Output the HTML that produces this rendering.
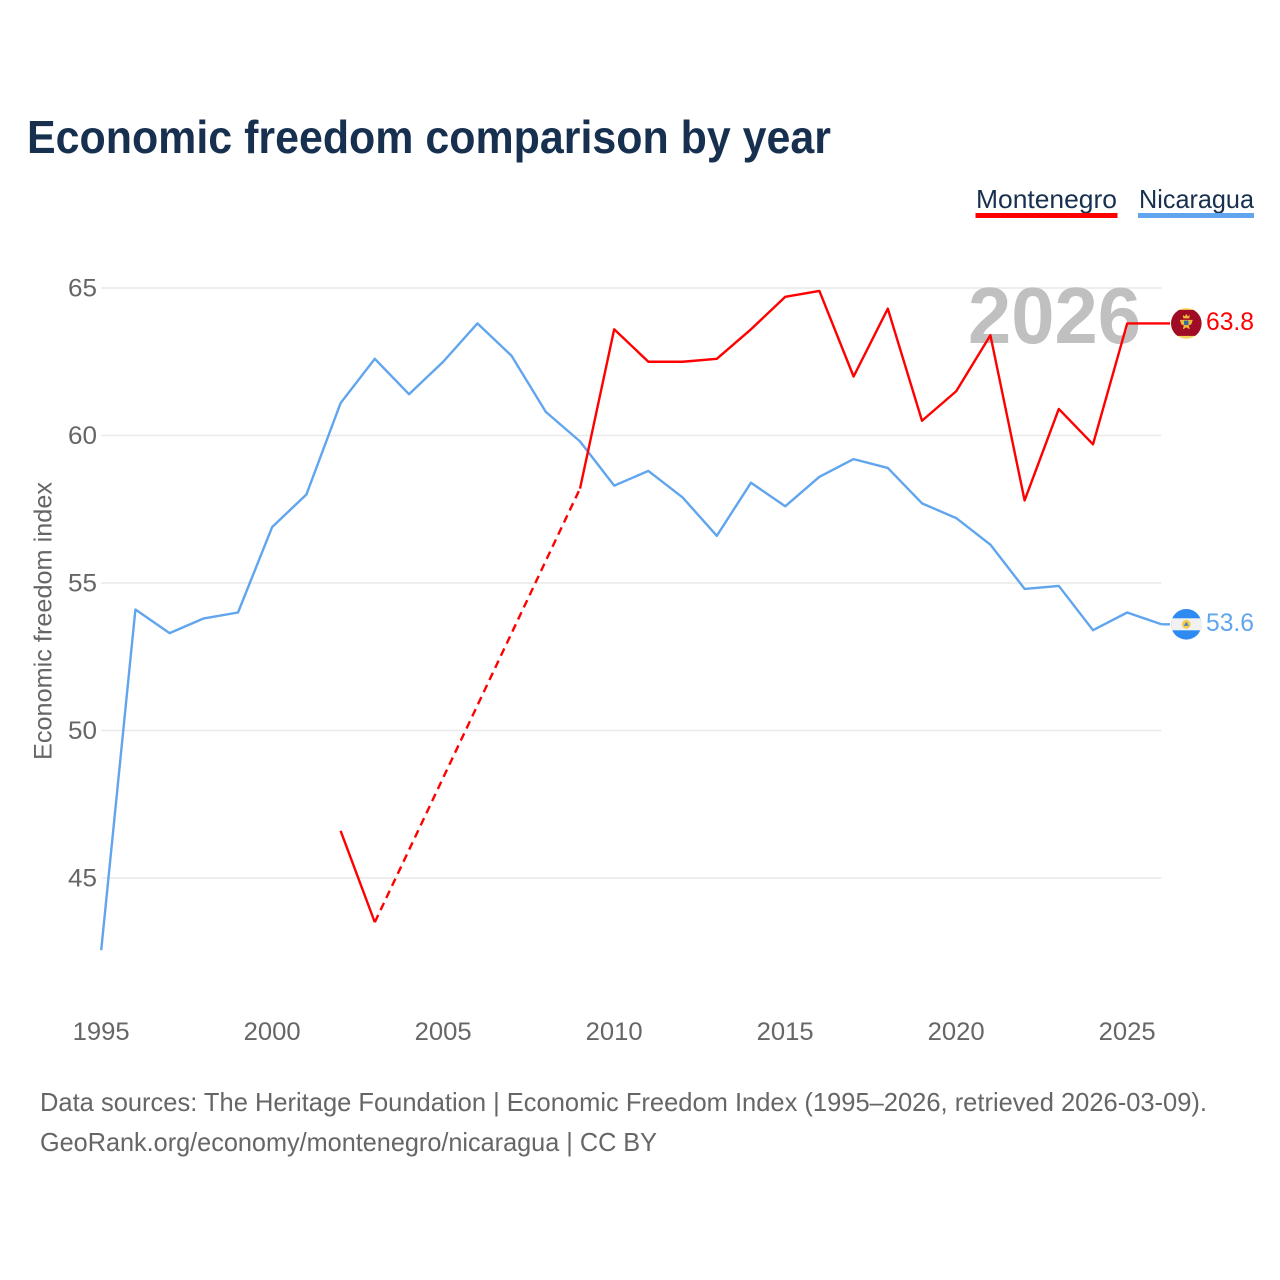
<!DOCTYPE html>
<html lang="en">
<head>
<meta charset="utf-8">
<title>Economic freedom comparison by year</title>
<style>
html,body{margin:0;padding:0;background:#fff;}
svg{display:block;font-family:"Liberation Sans",sans-serif;}
</style>
</head>
<body>
<svg id="chart" xmlns="http://www.w3.org/2000/svg" width="1280" height="1280" viewBox="0 0 1280 1280">
  <rect x="0" y="0" width="1280" height="1280" fill="#ffffff"/>
  <text x="27" y="153" font-size="46" font-weight="700" fill="#18304f" textLength="804" lengthAdjust="spacingAndGlyphs">Economic freedom comparison by year</text>

  <g>
    <text x="976" y="208" font-size="26" fill="#18304f" textLength="141" lengthAdjust="spacingAndGlyphs">Montenegro</text>
    <rect x="975.5" y="213" width="142" height="5" fill="#ff0000"/>
  </g>
  <g>
    <text x="1139" y="208" font-size="26" fill="#18304f" textLength="115" lengthAdjust="spacingAndGlyphs">Nicaragua</text>
    <rect x="1138" y="213" width="116" height="5" fill="#60a5ee"/>
  </g>

  <g id="grid"></g>
  <text x="1141" y="343" font-size="80" font-weight="700" fill="#c0c0c0" text-anchor="end" textLength="173" lengthAdjust="spacingAndGlyphs">2026</text>
  <g id="yticks"></g>
  <g id="xticks"></g>
  <text transform="translate(51.5,760) rotate(-90)" x="0" y="0" font-size="25" fill="#666666" textLength="278" lengthAdjust="spacingAndGlyphs">Economic freedom index</text>

  <g id="series"></g>

  <g id="flag-montenegro">
    <clipPath id="clip-me"><circle cx="0" cy="0" r="15.3"/></clipPath>
    <g clip-path="url(#clip-me)">
      <rect x="-16" y="-16" width="32" height="32" fill="#f6d25a"/>
      <rect x="-16" y="-13.5" width="32" height="26" fill="#a00b25"/>
      <path d="M-3.5 -8.5 L-3 -5 L3 -5 L3.5 -8.5 L1.5 -7 L0 -9.5 L-1.5 -7 Z" fill="#eeb93a"/>
      <path d="M-6.5 -3.5 L-2.5 -3.5 L2.5 -3.5 L6.5 -3.5 L5 1 L2.5 2 L3.5 6 L0 4 L-3.5 6 L-2.5 2 L-5 1 Z" fill="#eeb93a"/>
      <rect x="-2.2" y="-2.8" width="4.4" height="4.4" fill="#2f6e9e"/>
    </g>
  </g>
  <g id="flag-nicaragua">
    <clipPath id="clip-ni"><circle cx="0" cy="0" r="15.3"/></clipPath>
    <g clip-path="url(#clip-ni)">
      <rect x="-16" y="-16" width="32" height="32" fill="#2f8bf2"/>
      <rect x="-16" y="-6" width="32" height="12" fill="#f1f1f1"/>
      <circle cx="0" cy="0" r="4.4" fill="#f3cc4b"/>
      <path d="M-2.6 1.6 L0 -2.6 L2.6 1.6 Z" fill="#4f86c6"/>
    </g>
  </g>
  <text id="value-montenegro" x="1206" font-size="25" fill="#ff0000" textLength="48" lengthAdjust="spacingAndGlyphs"></text>
  <text id="value-nicaragua" x="1206" font-size="25" fill="#60a5ee" textLength="48" lengthAdjust="spacingAndGlyphs"></text>

  <text x="40" y="1111" font-size="26" fill="#666666" textLength="1167" lengthAdjust="spacingAndGlyphs">Data sources: The Heritage Foundation | Economic Freedom Index (1995–2026, retrieved 2026-03-09).</text>
  <text x="40" y="1151" font-size="26" fill="#666666" textLength="617" lengthAdjust="spacingAndGlyphs">GeoRank.org/economy/montenegro/nicaragua | CC BY</text>
</svg>

<script>
const years = [1995,1996,1997,1998,1999,2000,2001,2002,2003,2004,2005,2006,2007,2008,2009,2010,2011,2012,2013,2014,2015,2016,2017,2018,2019,2020,2021,2022,2023,2024,2025,2026];
const nicaraguaValues = [42.55,54.1,53.3,53.8,54.0,56.9,58.0,61.1,62.6,61.4,62.5,63.8,62.7,60.8,59.8,58.3,58.8,57.9,56.6,58.4,57.6,58.6,59.2,58.9,57.7,57.2,56.3,54.8,54.9,53.4,54.0,53.6];
const montenegroValues = [null,null,null,null,null,null,null,46.6,43.5,null,null,null,null,null,58.2,63.6,62.5,62.5,62.6,63.6,64.7,64.9,62.0,64.3,60.5,61.5,63.4,57.8,60.9,59.7,63.8,63.8];
const yTickValues = [45,50,55,60,65];
const xTickValues = [1995,2000,2005,2010,2015,2020,2025];

const SVG_NS = 'http://www.w3.org/2000/svg';
const xLeft = 101.2, xPerYear = 34.2;
const yAt65 = 288, yPerUnit = 29.5;
function xScale(year) { return xLeft + (year - 1995) * xPerYear; }
function yScale(value) { return yAt65 + (65 - value) * yPerUnit; }
function make(tag, attrs) {
  const el = document.createElementNS(SVG_NS, tag);
  for (const k in attrs) el.setAttribute(k, attrs[k]);
  return el;
}

const grid = document.getElementById('grid');
const yticks = document.getElementById('yticks');
yTickValues.forEach(function (v) {
  const line = make('line', {x1: xLeft, x2: xScale(2026), y1: yScale(v), y2: yScale(v), stroke: '#e9e9e9', 'stroke-width': 1.5});
  
  
  grid.appendChild(line);
  const label = make('text', {x: 97, y: yScale(v) + 8.5, 'font-size': 25, fill: '#666666', 'text-anchor': 'end', textLength: 29, lengthAdjust: 'spacingAndGlyphs'});
  
  
  label.textContent = v;
  yticks.appendChild(label);
});

const xticks = document.getElementById('xticks');
xTickValues.forEach(function (yr) {
  const label = make('text', {x: xScale(yr), y: 1040, 'font-size': 25, fill: '#666666', 'text-anchor': 'middle', textLength: 57, lengthAdjust: 'spacingAndGlyphs'});
  
  
  label.textContent = yr;
  xticks.appendChild(label);
});

function drawSeries(name, values, color) {
  const host = document.getElementById('series');
  let solid = '';
  let dashed = '';
  let prev = -1;
  values.forEach(function (v, i) {
    if (v === null) return;
    const pt = xScale(years[i]).toFixed(2) + ' ' + yScale(v).toFixed(2);
    if (prev < 0) {
      solid += 'M' + pt;
    } else if (i === prev + 1) {
      solid += ' L' + pt;
    } else {
      dashed += 'M' + xScale(years[prev]).toFixed(2) + ' ' + yScale(values[prev]).toFixed(2) + ' L' + pt + ' ';
      solid += ' M' + pt;
    }
    prev = i;
  });
  const lastY = yScale(values[values.length - 1]);
  solid += ' M' + xScale(2026).toFixed(2) + ' ' + lastY.toFixed(2) + ' L1170 ' + lastY.toFixed(2);
  const line = make('path', {d: solid, fill: 'none', stroke: color, 'stroke-width': 2.4, 'stroke-linejoin': 'round'});
  
  
  host.appendChild(line);
  if (dashed) {
    const gap = make('path', {d: dashed, fill: 'none', stroke: color, 'stroke-width': 2.4, 'stroke-dasharray': '8 5.4'});
    
    
    host.appendChild(gap);
  }
}
drawSeries('nicaragua', nicaraguaValues, '#60a5ee');
drawSeries('montenegro', montenegroValues, '#ff0000');

function placeEnd(name, values) {
  const last = values[values.length - 1];
  const y = yScale(last);
  document.getElementById('flag-' + name).setAttribute('transform', 'translate(1186.3,' + y + ')');
  const label = document.getElementById('value-' + name);
  label.setAttribute('y', y + 6.5);
  label.textContent = last.toFixed(1);
}
placeEnd('montenegro', montenegroValues);
placeEnd('nicaragua', nicaraguaValues);
</script>
</body>
</html>
